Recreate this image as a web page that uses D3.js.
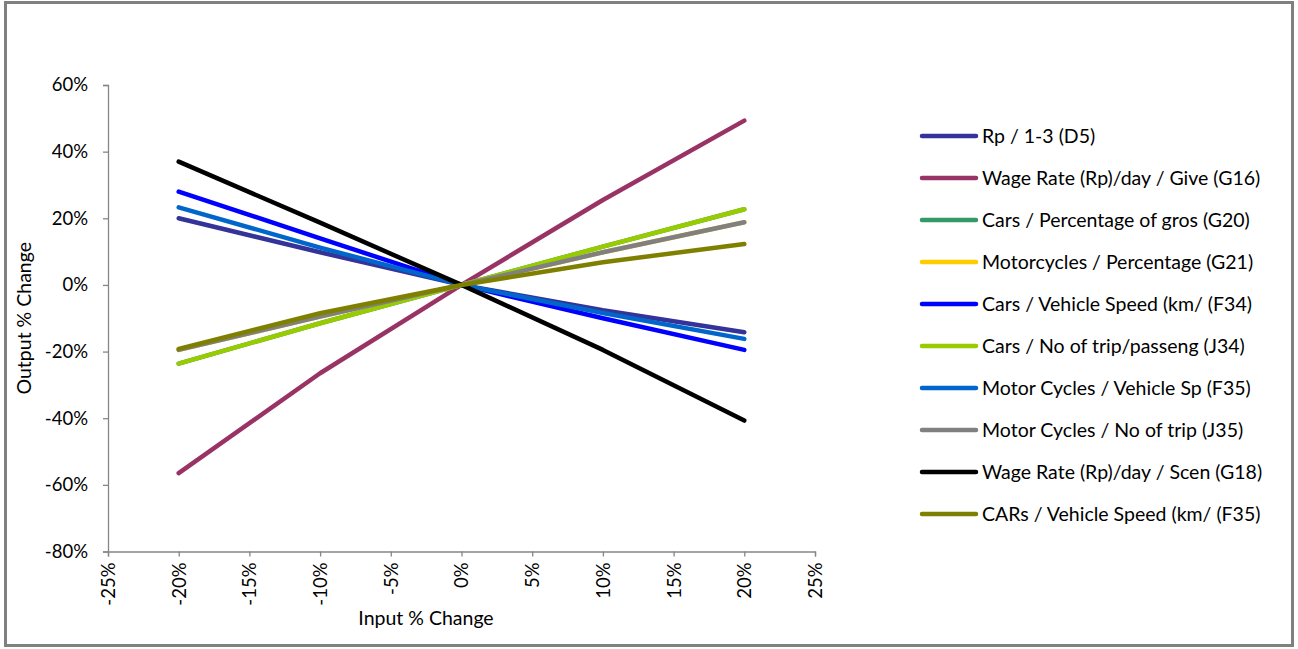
<!DOCTYPE html>
<html>
<head>
<meta charset="utf-8">
<script src="https://cdn.jsdelivr.net/npm/d3@7/dist/d3.min.js"></script>
<style>
  html, body { margin: 0; padding: 0; background: #fff; }
  svg { display: block; }
  text { font-family: Lato, "Open Sans", sans-serif; fill: #000; }
</style>
</head>
<body>
<svg id="chart" width="1298" height="649"></svg>
<script>
// Input change steps (x) and the output change of each series
const inputSteps = [-0.20, -0.10, 0, 0.10, 0.20];
const seriesNames = [
  "Rp / 1-3 (D5)",
  "Wage Rate (Rp)/day / Give (G16)",
  "Cars / Percentage of gros (G20)",
  "Motorcycles / Percentage  (G21)",
  "Cars / Vehicle Speed (km/ (F34)",
  "Cars / No of trip/passeng (J34)",
  "Motor Cycles / Vehicle Sp (F35)",
  "Motor Cycles / No of trip (J35)",
  "Wage Rate (Rp)/day / Scen (G18)",
  "CARs / Vehicle Speed (km/ (F35)"
];
const seriesColors = ["#333399", "#993366", "#339966", "#FFCC00", "#0000FF",
                      "#99CC00", "#0066CC", "#808080", "#000000", "#808000"];
const rpD5      = [0.200, 0.098, 0, -0.076, -0.142];
const wageG16   = [-0.565, -0.265, 0, 0.255, 0.493];
const carsG20   = [-0.236, -0.115, 0, 0.115, 0.227];
const motoG21   = [-0.195, -0.095, 0, 0.098, 0.188];
const carsF34   = [0.280, 0.140, 0, -0.100, -0.195];
const carsJ34   = [-0.236, -0.115, 0, 0.115, 0.227];
const motoF35   = [0.233, 0.112, 0, -0.084, -0.162];
const motoJ35   = [-0.195, -0.095, 0, 0.098, 0.188];
const wageG18   = [0.370, 0.187, 0, -0.195, -0.407];
const carsF35   = [-0.192, -0.085, 0, 0.068, 0.123];
const seriesValues = [rpD5, wageG16, carsG20, motoG21, carsF34, carsJ34, motoF35, motoJ35, wageG18, carsF35];

const xTicks = [-0.25, -0.20, -0.15, -0.10, -0.05, 0, 0.05, 0.10, 0.15, 0.20, 0.25];
const yTicks = [-0.8, -0.6, -0.4, -0.2, 0, 0.2, 0.4, 0.6];

const svg = d3.select("#chart");

// outer chart frame
svg.append("rect")
  .attr("x", 5.5).attr("y", 2.5)
  .attr("width", 1287).attr("height", 643)
  .attr("fill", "#fff").attr("stroke", "#808080").attr("stroke-width", 3);

const plot = { left: 108, right: 815, top: 85, bottom: 551.5 };
const x = d3.scaleLinear().domain([-0.25, 0.25]).range([plot.left, plot.right]);
const y = d3.scaleLinear().domain([-0.8, 0.6]).range([plot.bottom, plot.top]);
// percent labels with a plain hyphen for negatives
const pct = v => Math.round(v * 100) + "%";

// y axis
const yAxis = svg.append("g")
  .attr("transform", `translate(${plot.left},0)`)
  .call(d3.axisLeft(y).tickValues(yTicks).tickFormat(pct).tickSize(5).tickPadding(15));
// x axis
const xAxis = svg.append("g")
  .attr("transform", `translate(0,${plot.bottom})`)
  .call(d3.axisBottom(x).tickValues(xTicks).tickFormat(pct).tickSize(5));
[yAxis, xAxis].forEach(g => {
  g.select(".domain").attr("stroke", "#868686").attr("stroke-width", 1.3);
  g.selectAll(".tick line").attr("stroke", "#868686").attr("stroke-width", 1.3);
  g.selectAll("text").style("font-size", "18.5px").attr("fill", "#000")
    .style("font-family", "Lato, 'Open Sans', sans-serif");
});
xAxis.selectAll(".tick text")
  .attr("transform", "rotate(-90)")
  .attr("text-anchor", "end")
  .attr("x", -11).attr("y", 0).attr("dy", "0.35em");

// axis titles
svg.append("text")
  .attr("transform", `translate(31,${(plot.top + plot.bottom) / 2}) rotate(-90)`)
  .attr("text-anchor", "middle").style("font-size", "19.5px")
  .text("Output % Change");
svg.append("text")
  .attr("x", 426).attr("y", 625)
  .attr("text-anchor", "middle").style("font-size", "19.5px")
  .text("Input % Change");

// series lines
const line = d3.line().x((d, i) => x(inputSteps[i])).y(d => y(d));
svg.append("g").selectAll("path")
  .data(seriesValues)
  .join("path")
  .attr("d", d => line(d))
  .attr("fill", "none")
  .attr("stroke", (d, i) => seriesColors[i])
  .attr("stroke-width", 4.5)
  .attr("stroke-linecap", "round")
  .attr("stroke-linejoin", "round");

// legend
const legend = svg.append("g").attr("transform", "translate(922,136)");
const rowH = 42;
const rows = legend.selectAll("g").data(seriesNames).join("g")
  .attr("transform", (d, i) => `translate(0,${i * rowH})`);
rows.append("line")
  .attr("x1", 0).attr("x2", 54).attr("y1", 0).attr("y2", 0)
  .attr("stroke", (d, i) => seriesColors[i])
  .attr("stroke-width", 4.5).attr("stroke-linecap", "round");
rows.append("text")
  .attr("x", 60).attr("y", 0).attr("dy", "0.35em")
  .style("font-size", "19.5px")
  .text(d => d);
</script>
</body>
</html>
